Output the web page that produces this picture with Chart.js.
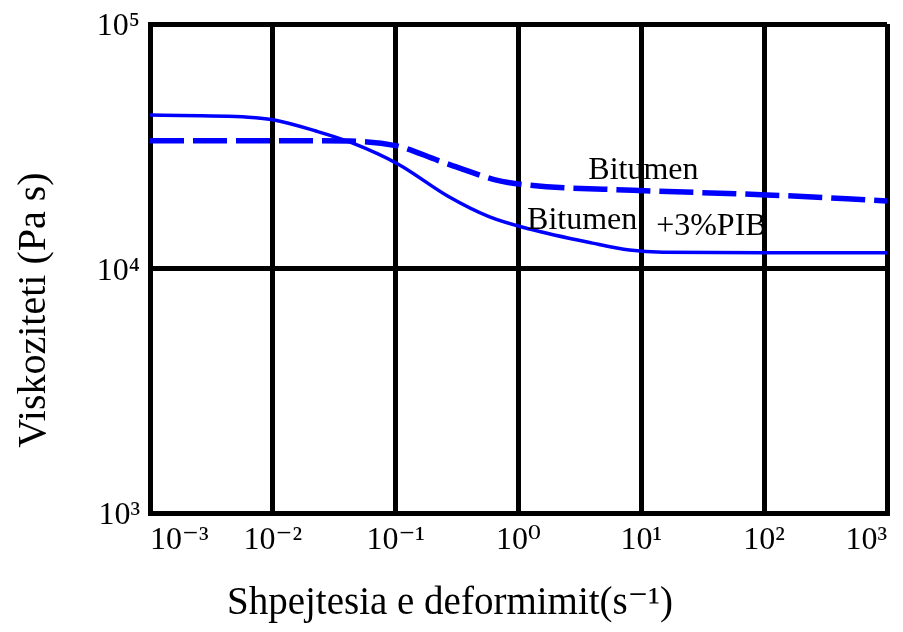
<!DOCTYPE html>
<html><head><meta charset="utf-8">
<script src="https://cdn.jsdelivr.net/npm/chart.js@4/dist/chart.umd.min.js"></script>
<style>html,body{margin:0;padding:0;background:#fff;}#wrap{width:903px;height:632px;}</style>
</head><body><div id="wrap"><canvas id="c" width="903" height="632"></canvas></div>
<script>
// Bitumen + 3% PIB (solid)
const pibShearRate = [0.001, 0.0063, 0.0105, 0.0224, 0.0437, 0.105, 0.269, 0.575, 1.23, 4.0, 8.0, 15, 100, 1000];
const pibViscosity = [42400, 41600, 40400, 36500, 32700, 26700, 19700, 16300, 14500, 12700, 11900, 11650, 11600, 11600];
// Bitumen (dashed)
const bitShearRate = [0.001, 0.025, 0.1, 0.22, 0.35, 0.66, 1.23, 8.5, 105, 1000];
const bitViscosity = [33300, 33300, 31800, 27700, 25500, 23000, 21900, 20900, 20000, 18900];

const xTickValues = [1e-3, 1e-2, 1e-1, 1, 10, 100, 1000];
const xTickLabels = ['10⁻³', '10⁻²', '10⁻¹', '10⁰', '10¹', '10²', '10³'];
const yTickValues = [1e3, 1e4, 1e5];
const yTickLabels = ['10³', '10⁴', '10⁵'];

const xTitle = 'Shpejtesia e deformimit(s⁻¹)';
const yTitle = 'Viskoziteti (Pa s)';

const curveLabels = ['Bitumen', 'Bitumen', '+3%PIB'];
const curveLabelX = [10.4, 3.3, 37.2];
const curveLabelY = [23200, 14500, 13700];

const SERIF = '"Liberation Serif", "DejaVu Serif", "Times New Roman", serif';

const toPts = (xs, ys) => xs.map((x, i) => ({x: x, y: ys[i]}));

const textPlugin = {
  id: 'textPlugin',
  afterDatasetsDraw(chart) {
    const ctx = chart.ctx;
    const xs = chart.scales.x, ys = chart.scales.y;
    ctx.save();
    ctx.fillStyle = '#000';
    ctx.font = '32px ' + SERIF;
    ctx.textAlign = 'center';
    ctx.textBaseline = 'alphabetic';
    curveLabels.forEach((t, i) => {
      ctx.fillText(t, xs.getPixelForValue(curveLabelX[i]), ys.getPixelForValue(curveLabelY[i]));
    });
    ctx.restore();
  },
  afterDraw(chart) {
    const ctx = chart.ctx;
    ctx.save();
    ctx.fillStyle = '#000';
    ctx.font = '39px ' + SERIF;
    ctx.textAlign = 'center';
    ctx.textBaseline = 'middle';
    ctx.fillText(xTitle, 450, 604);
    ctx.translate(34, 310);
    ctx.rotate(-Math.PI / 2);
    ctx.font = '40px ' + SERIF;
    ctx.fillText(yTitle, 0, 0);
    ctx.restore();
  }
};

new Chart(document.getElementById('c'), {
  type: 'line',
  data: {
    datasets: [
      {
        label: 'Bitumen +3%PIB',
        data: toPts(pibShearRate, pibViscosity),
        borderColor: '#0000ff',
        borderWidth: 3.5,
        pointRadius: 0,
        fill: false,
        cubicInterpolationMode: 'monotone'
      },
      {
        label: 'Bitumen',
        data: toPts(bitShearRate, bitViscosity),
        borderColor: '#0000ff',
        borderWidth: 5.5,
        borderDash: [34, 9],
        pointRadius: 0,
        fill: false,
        cubicInterpolationMode: 'monotone'
      }
    ]
  },
  options: {
    responsive: false,
    animation: false,
    devicePixelRatio: 1,
    layout: {padding: {top: 24, right: 16, left: 0, bottom: 0}},
    plugins: {legend: {display: false}, tooltip: {enabled: false}},
    scales: {
      x: {
        type: 'logarithmic',
        min: 1e-3, max: 1e3,
        afterBuildTicks: s => { s.ticks = xTickValues.map(v => ({value: v})); },
        afterFit: s => { s.height = 119; s.paddingLeft = 0; s.paddingRight = 0; },
        ticks: {
          autoSkip: false, maxRotation: 0, align: 'inner', padding: 8, color: '#000',
          font: {family: SERIF, size: 32},
          callback: (v) => xTickLabels[xTickValues.indexOf(v)]
        },
        grid: {color: '#000', lineWidth: 5, drawTicks: false},
        border: {display: true, color: '#000', width: 5}
      },
      y: {
        type: 'logarithmic',
        min: 1e3, max: 1e5,
        afterBuildTicks: s => { s.ticks = yTickValues.map(v => ({value: v})); },
        afterFit: s => { s.width = 150; s.paddingTop = 0; s.paddingBottom = 0; },
        ticks: {
          autoSkip: false, padding: 10, labelOffset: 3, color: '#000',
          font: {family: SERIF, size: 32},
          callback: (v) => yTickLabels[yTickValues.indexOf(v)]
        },
        grid: {color: '#000', lineWidth: 5, drawTicks: false},
        border: {display: true, color: '#000', width: 5}
      }
    }
  },
  plugins: [textPlugin]
});
</script></body></html>
